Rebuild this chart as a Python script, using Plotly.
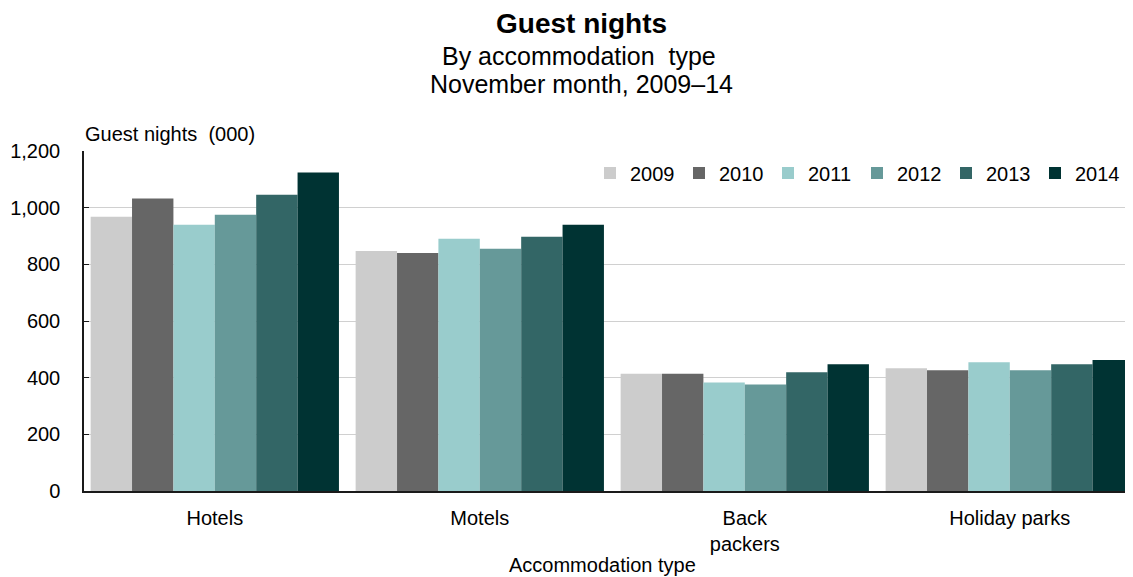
import plotly.graph_objects as go

categories = ["Hotels", "Motels", "Back packers", "Holiday parks"]
tick_labels = ["Hotels", "Motels", "Back<br>packers", "Holiday parks"]
years = ["2009", "2010", "2011", "2012", "2013", "2014"]
v2009 = [968, 847, 414, 433]
v2010 = [1032, 840, 414, 426]
v2011 = [940, 890, 383, 454]
v2012 = [975, 855, 376, 426]
v2013 = [1046, 897, 419, 447]
v2014 = [1124, 940, 447, 462]
series = [v2009, v2010, v2011, v2012, v2013, v2014]
colors = ["#CCCCCC", "#666666", "#99CCCC", "#669999", "#336666", "#003333"]

FONT = "Liberation Sans, Arial, sans-serif"

# page has an 8px body margin; layout numbers below are in page pixels
OFF = 8
PL, PR, PT, PB = 84, 1133, 151, 491   # plot area in page pixels
W, H = 1133 - OFF, 577 - OFF


def py(yp):
    return (PB - yp) / (PB - PT)


def px(xp):
    return (xp - PL) / (PR - PL)


fig = go.Figure()
for y, vals, c in zip(years, series, colors):
    fig.add_trace(go.Bar(name=y, x=categories, y=vals, marker=dict(color=c, line=dict(width=0))))

fig.update_layout(
    width=W, height=H,
    margin=dict(l=PL - OFF, r=W - (PR - OFF), t=PT - OFF, b=H - (PB - OFF), pad=0),
    paper_bgcolor="white", plot_bgcolor="white",
    barmode="group", bargap=0.063, bargroupgap=0,
    font=dict(family=FONT, color="#000000", size=20),
    showlegend=True,
    legend=dict(orientation="h", x=px(590), xanchor="left", y=py(173), yanchor="middle",
                font=dict(size=20, family=FONT), bgcolor="rgba(0,0,0,0)",
                itemwidth=30, entrywidth=44, entrywidthmode="pixels", tracegroupgap=0),
    xaxis=dict(range=[-0.4936, 3.465], tickmode="array", tickvals=categories, ticktext=tick_labels,
               showline=True, linecolor="#1a1a1a", linewidth=1.5, ticks="",
               tickfont=dict(size=20, family=FONT), ticklabelstandoff=8, showgrid=False),
    yaxis=dict(range=[0, 1200], dtick=200, tickformat=",", showline=True, linecolor="#1a1a1a",
               linewidth=1.5, ticks="inside", ticklen=5, tickcolor="#1a1a1a",
               gridcolor="#D0D0D0", gridwidth=1, zeroline=False,
               tickfont=dict(size=20, family=FONT), ticklabelstandoff=18),
    annotations=[
        dict(text="<b>Guest nights</b>", x=px(581), y=py(23), xref="paper", yref="paper",
             xanchor="center", yanchor="middle", showarrow=False, font=dict(size=28, family=FONT)),
        dict(text="By accommodation  type", x=px(579), y=py(56), xref="paper", yref="paper",
             xanchor="center", yanchor="middle", showarrow=False, font=dict(size=25, family=FONT)),
        dict(text="November month, 2009\u201314", x=px(581), y=py(84), xref="paper", yref="paper",
             xanchor="center", yanchor="middle", showarrow=False, font=dict(size=25, family=FONT)),
        dict(text="Guest nights  (000)", x=px(83), y=py(134), xref="paper", yref="paper",
             xanchor="left", yanchor="middle", showarrow=False, font=dict(size=20, family=FONT)),
        dict(text="Accommodation type", x=px(602), y=py(565), xref="paper", yref="paper",
             xanchor="center", yanchor="middle", showarrow=False, font=dict(size=20, family=FONT)),
    ],
)

fig.write_html("out.html")
